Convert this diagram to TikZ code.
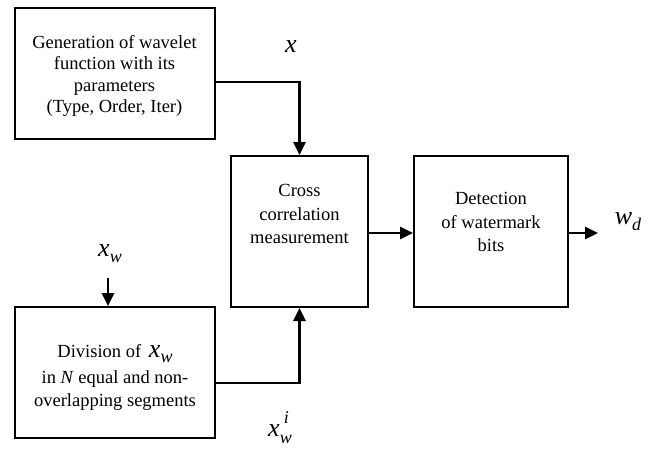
\documentclass[tikz,border=0pt]{standalone}
\usepackage{fontspec}
\setmainfont{Liberation Serif}
\usetikzlibrary{arrows.meta}
\newcommand\bigvr[1]{{\fontsize{26}{26}\selectfont\itshape #1}}
\newcommand\smvr[1]{{\fontsize{18}{18}\selectfont\itshape #1}}
\begin{document}
\begin{tikzpicture}[x=1pt,y=-1pt,
  box/.style={draw,line width=2pt,rectangle,inner sep=0pt},
  txt/.style={align=center,inner sep=0pt,font=\fontsize{18.5}{21.5}\selectfont},
  txtw/.style={txt,font=\fontsize{18.5}{23.8}\selectfont},
  arr/.style={line width=2.6pt,-{Triangle[length=13pt,width=12pt]}},
  lbl/.style={inner sep=0pt}]
\useasboundingbox (0,0) rectangle (653,448);
\node[box,minimum width=200pt,minimum height=131pt] (gen) at (114.5,73.5) {};
\node[txt] (gent) at (114.5,76) {Generation of wavelet\\function with its\\parameters\\(Type, Order, Iter)};
\node[box,minimum width=137pt,minimum height=151pt] (cc) at (299.5,231.5) {};
\node[txtw] (cct) at (299.5,214) {Cross\\correlation\\measurement};
\node[box,minimum width=154pt,minimum height=151pt] (det) at (491,231.5) {};
\node[txtw] (dett) at (491,222) {Detection\\of watermark\\bits};
\node[box,minimum width=200pt,minimum height=131pt] (div) at (115,372.5) {};
\node[txt,font=\fontsize{18.5}{23}\selectfont] (divt) at (115,377) {Division of \,\bigvr{x}\raisebox{-5pt}{\smvr{w}}\\[3pt]in \textit{N} equal and non-\\overlapping segments};
\coordinate (xin) at (108,278);
\coordinate (wout) at (598,233);
\node[lbl] (xl) at (291,47) {\bigvr{x}};
\node[lbl] (xwl) at (110,254) {\bigvr{x}\raisebox{-6pt}{\smvr{w}}};
\node[lbl] (wdl) at (628,222) {\bigvr{w}\raisebox{-6pt}{\smvr{d}}};
\node[lbl] (xwil) at (280,428) {\bigvr{x}\raisebox{-7pt}{\smvr{w}}\llap{\raisebox{13pt}{\smvr{i}}\hspace{3pt}}};
\draw[arr] (gen.east|-0,82) -| (cc.north);
\draw[arr] (cc.east|-0,233) -- (det.west|-0,233);
\draw[arr] (det.east|-0,233) -- (wout);
\draw[arr] (xin) -- (xin|-div.north);
\draw[arr] (div.east|-0,383) -| (cc.south);
\end{tikzpicture}
\end{document}
